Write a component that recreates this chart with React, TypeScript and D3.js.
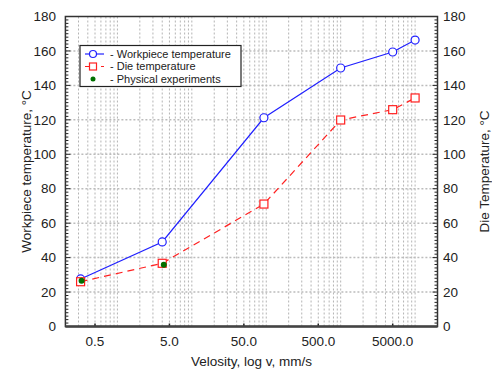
import React from "react";
import * as d3 from "d3";

const velocity = [0.32, 4.0, 93, 1000, 5000, 10000];
const workpieceTemp = [27.6, 49.1, 121.2, 150.1, 159.4, 166.3];
const dieTemp = [26.0, 36.7, 71.1, 119.9, 125.9, 132.7];
const expVelocity = [0.33, 4.2];
const expTemp = [26.6, 35.9];
const xTickValues = [0.5, 5, 50, 500, 5000];
const xTickLabels = ["0.5", "5.0", "50.0", "500.0", "5000.0"];
const yTickValues = [0, 20, 40, 60, 80, 100, 120, 140, 160, 180];
const legendLabels = ["- Workpiece temperature", "- Die temperature", "- Physical experiments"];

const W = 492;
const H = 369;
const L = 65.4, R = 437.5, T = 16.5, B = 326.5;
const FONT = "'Liberation Sans', Arial, sans-serif";

export default function App() {
  const x = d3.scaleLog().domain([0.2, 20000]).range([L, R]);
  const y = d3.scaleLinear().domain([0, 180]).range([B, T]);

  const gridX: number[] = [];
  for (let e = -1; e <= 4; e++) {
    for (let m = 1; m <= 9; m++) {
      const v = m * Math.pow(10, e);
      if (v > 0.2 && v < 20000) gridX.push(v);
    }
  }
  const minorY = d3.range(0, 181, 2);

  const line = d3
    .line<[number, number]>()
    .x((d) => x(d[0]))
    .y((d) => y(d[1]));
  const wp: [number, number][] = velocity.map((v, i) => [v, workpieceTemp[i]]);
  const die: [number, number][] = velocity.map((v, i) => [v, dieTemp[i]]);

  const blue = "#2020ff";
  const red = "#ff2020";
  const green = "#007000";
  const legendY = [54, 66.5, 79];

  return (
    <svg width={W} height={H} style={{ position: "absolute", left: 0, top: 0, background: "#fff" }}>
      <rect x={0} y={0} width={W} height={H} fill="#fff" />
      {/* grid */}
      {gridX.map((v) => (
        <line key={"gx" + v} x1={x(v)} x2={x(v)} y1={T} y2={B} stroke="#b4b4b4" strokeWidth={1} strokeDasharray="2,2" />
      ))}
      {yTickValues.slice(1, -1).map((v) => (
        <line key={"gy" + v} x1={L} x2={R} y1={y(v)} y2={y(v)} stroke="#bcbcbc" strokeWidth={1.5} strokeDasharray="2,2" />
      ))}
      {/* minor y ticks */}
      {minorY.map((v) => (
        <g key={"my" + v}>
          <line x1={L} x2={L + (v % 20 === 0 ? 5 : 3)} y1={y(v)} y2={y(v)} stroke="#222" strokeWidth={1} />
          <line x1={R} x2={R - (v % 20 === 0 ? 5 : 3)} y1={y(v)} y2={y(v)} stroke="#222" strokeWidth={1} />
        </g>
      ))}
      {xTickValues.map((v) => (
        <line key={"xt" + v} x1={x(v)} x2={x(v)} y1={B} y2={B - 3} stroke="#222" strokeWidth={1.5} />
      ))}
      {/* frame */}
      <rect x={L} y={T} width={R - L} height={B - T} fill="none" stroke="#333" strokeWidth={1.5} />
      <line x1={L} x2={R} y1={B} y2={B} stroke="#444" strokeWidth={2.5} />
      {/* series */}
      <path d={line(wp) || ""} fill="none" stroke={blue} strokeWidth={1.2} />
      {wp.map((d, i) => (
        <circle key={"c" + i} cx={x(d[0])} cy={y(d[1])} r={4} fill="#fff" stroke={blue} strokeWidth={1.2} />
      ))}
      <path d={line(die) || ""} fill="none" stroke={red} strokeWidth={1.2} strokeDasharray="7,5" />
      {die.map((d, i) => (
        <rect key={"s" + i} x={x(d[0]) - 4} y={y(d[1]) - 4} width={8} height={8} fill="#fff" stroke={red} strokeWidth={1.2} />
      ))}
      {expVelocity.map((v, i) => (
        <circle key={"g" + i} cx={x(v)} cy={y(expTemp[i])} r={3} fill={green} />
      ))}
      {/* axis tick labels */}
      {yTickValues.map((v) => (
        <text key={"yl" + v} x={56} y={y(v)} dy="0.35em" textAnchor="end" fontFamily={FONT} fontSize={13.5} fill="#222">
          {v}
        </text>
      ))}
      {yTickValues.map((v) => (
        <text key={"yr" + v} x={443} y={y(v)} dy="0.35em" textAnchor="start" fontFamily={FONT} fontSize={13.5} fill="#222">
          {v}
        </text>
      ))}
      {xTickValues.map((v, i) => (
        <text key={"xl" + v} x={x(v)} y={346} textAnchor="middle" fontFamily={FONT} fontSize={13.5} fill="#222">
          {xTickLabels[i]}
        </text>
      ))}
      <text x={(L + R) / 2} y={366} textAnchor="middle" fontFamily={FONT} fontSize={13.5} fill="#222">
        Velosity, log v, mm/s
      </text>
      <text transform={`translate(31,${(T + B) / 2}) rotate(-90)`} textAnchor="middle" fontFamily={FONT} fontSize={13.5} fill="#222">
        Workpiece temperature, °C
      </text>
      <text transform={`translate(489,${(T + B) / 2}) rotate(-90)`} textAnchor="middle" fontFamily={FONT} fontSize={13.5} fill="#222">
        Die Temperature, °C
      </text>
      {/* legend */}
      <rect x={80} y={45.5} width={161} height={41} fill="#fff" stroke="#222" strokeWidth={1.2} />
      <line x1={85} x2={104} y1={legendY[0]} y2={legendY[0]} stroke={blue} strokeWidth={1.2} />
      <circle cx={93} cy={legendY[0]} r={3.5} fill="#fff" stroke={blue} strokeWidth={1.2} />
      <line x1={85} x2={104} y1={legendY[1]} y2={legendY[1]} stroke={red} strokeWidth={1.2} strokeDasharray="4,4" />
      <rect x={89.5} y={legendY[1] - 3.5} width={7} height={7} fill="#fff" stroke={red} strokeWidth={1.2} />
      <circle cx={93} cy={legendY[2]} r={2.5} fill={green} />
      {legendLabels.map((t, i) => (
        <text key={"lg" + i} x={110} y={legendY[i]} dy="0.35em" fontFamily={FONT} fontSize={11} fill="#222">
          {t}
        </text>
      ))}
    </svg>
  );
}
